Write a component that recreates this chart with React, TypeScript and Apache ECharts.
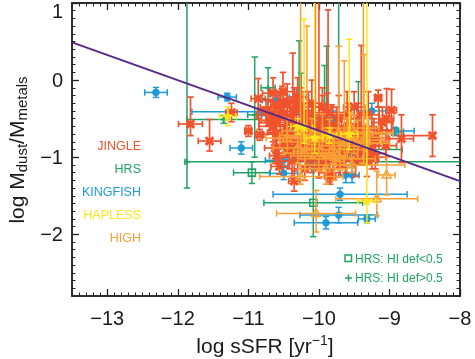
import React, { useEffect, useRef } from "react";
import * as echarts from "echarts";

const X_RANGE = [-13.5, -8];
const Y_RANGE = [-2.8, 1];
const xMajorTicks = [-13, -12, -11, -10, -9, -8];
const yMajorTicks = [-2, -1, 0, 1];

// each point: [x, y, xErrLow, xErrHigh, yErrLow, yErrHigh]
const jingle = [
  [-11.82, -0.57, 0.17, 0.17, 0.15, 0.35],
  [-11.55, -0.79, 0.16, 0.16, 0.13, 0.28],
  [-11.24, -0.42, 0.08, 0.08, 0.12, 0.12],
  [-11.0, -0.66, 0.05, 0.05, 0.07, 0.07],
  [-10.86, -0.24, 0.1, 0.1, 0.26, 0.26],
  [-10.84, -0.71, 0.06, 0.06, 0.07, 0.07],
  [-10.65, -0.17, 0.15, 0.15, 0.15, 0.2],
  [-10.51, -0.15, 0.2, 0.2, 0.2, 0.25],
  [-10.37, -0.4, 0.12, 0.12, 0.2, 0.75],
  [-10.6, -0.98, 0.1, 0.1, 0.1, 0.1],
  [-10.56, -1.12, 0.12, 0.12, 0.1, 0.1],
  [-10.35, -1.31, 0.08, 0.08, 0.13, 0.13],
  [-9.84, -1.25, 0.08, 0.08, 0.1, 0.1],
  [-9.16, -0.23, 0.05, 0.05, 0.12, 0.1],
  [-8.97, -0.39, 0.07, 0.07, 0.27, 0.27],
  [-8.83, -0.76, 0.17, 0.17, 0.31, 0.31],
  [-8.39, -0.72, 0.44, 0.03, 0.27, 0.27],
  [-10.7, -0.55, 0.15, 0.15, 0.15, 0.2],
  [-10.75, -0.4, 0.12, 0.12, 0.15, 0.15],
  [-10.6, -0.7, 0.2, 0.2, 0.2, 0.2],
  [-10.55, -0.45, 0.2, 0.2, 0.2, 0.3],
  [-10.5, -0.85, 0.15, 0.15, 0.15, 0.2],
  [-10.45, -0.55, 0.25, 0.25, 0.2, 0.25],
  [-10.4, -0.78, 0.2, 0.2, 0.2, 0.25],
  [-10.35, -0.4, 0.2, 0.2, 0.2, 0.3],
  [-10.3, -0.95, 0.15, 0.15, 0.2, 0.2],
  [-10.3, -0.22, 0.15, 0.15, 0.15, 0.25],
  [-10.25, -0.62, 0.25, 0.25, 0.2, 0.3],
  [-10.2, -0.85, 0.2, 0.2, 0.2, 0.25],
  [-10.2, -1.15, 0.15, 0.15, 0.15, 0.2],
  [-10.15, -0.5, 0.2, 0.2, 0.2, 0.35],
  [-10.1, -1.0, 0.2, 0.2, 0.2, 0.2],
  [-10.1, -0.3, 0.15, 0.15, 0.15, 0.3],
  [-10.05, -0.7, 0.25, 0.25, 0.25, 2.5],
  [-10.0, -0.9, 0.2, 0.2, 0.2, 2.5],
  [-10.0, -1.12, 0.15, 0.15, 0.15, 0.2],
  [-9.95, -0.55, 0.2, 0.2, 0.2, 0.35],
  [-9.95, -0.35, 0.15, 0.15, 0.15, 0.25],
  [-9.9, -1.05, 0.2, 0.2, 0.2, 0.2],
  [-9.87, -0.8, 0.2, 0.2, 0.2, 1.71],
  [-9.85, -1.2, 0.15, 0.15, 0.12, 0.15],
  [-9.8, -0.95, 0.2, 0.2, 0.2, 0.25],
  [-9.75, -0.65, 0.25, 0.25, 0.2, 0.3],
  [-9.7, -1.1, 0.2, 0.2, 0.15, 0.2],
  [-9.65, -0.9, 0.2, 0.2, 0.2, 0.3],
  [-9.6, -0.45, 0.2, 0.2, 0.2, 0.3],
  [-9.55, -0.75, 0.25, 0.25, 0.2, 0.3],
  [-9.5, -0.35, 0.15, 0.15, 0.15, 0.2],
  [-9.45, -0.6, 0.2, 0.2, 0.2, 0.3],
  [-9.4, -0.9, 0.15, 0.15, 0.2, 1.35],
  [-9.35, -0.85, 0.2, 0.2, 0.2, 0.2],
  [-9.3, -0.45, 0.15, 0.15, 0.2, 0.3],
  [-9.25, -0.95, 0.2, 0.2, 0.2, 0.25],
  [-9.2, -1.0, 0.15, 0.15, 0.15, 0.2],
  [-9.15, -0.65, 0.2, 0.2, 0.2, 0.3],
  [-9.1, -0.55, 0.15, 0.15, 0.15, 0.2],
  [-9.05, -0.85, 0.15, 0.15, 0.15, 0.2],
  [-9.04, -0.5, 0.1, 0.1, 0.15, 0.39],
  [-10.65, -0.6, 0.2, 0.2, 0.2, 0.25],
  [-10.58, -0.35, 0.25, 0.25, 0.2, 0.2],
  [-10.48, -0.68, 0.25, 0.25, 0.25, 0.25],
  [-10.42, -0.95, 0.2, 0.2, 0.2, 0.2],
  [-10.32, -0.58, 0.3, 0.3, 0.25, 0.3],
  [-10.28, -0.78, 0.25, 0.25, 0.25, 0.25],
  [-10.22, -0.45, 0.3, 0.3, 0.2, 0.3],
  [-10.18, -0.7, 0.25, 0.25, 0.25, 0.3],
  [-10.12, -0.88, 0.3, 0.3, 0.2, 0.25],
  [-10.08, -0.6, 0.3, 0.3, 0.25, 0.3],
  [-10.02, -0.78, 0.25, 0.25, 0.25, 0.3],
  [-9.97, -1.0, 0.25, 0.25, 0.2, 0.2],
  [-9.92, -0.68, 0.3, 0.3, 0.25, 0.3],
  [-9.88, -0.42, 0.25, 0.25, 0.2, 0.25],
  [-9.82, -0.62, 0.3, 0.3, 0.25, 0.3],
  [-9.78, -0.82, 0.25, 0.25, 0.25, 0.25],
  [-9.72, -0.5, 0.25, 0.25, 0.2, 0.3],
  [-9.68, -0.75, 0.3, 0.3, 0.25, 0.3],
  [-9.62, -1.0, 0.2, 0.2, 0.2, 0.2],
  [-9.58, -0.6, 0.25, 0.25, 0.25, 0.3],
  [-9.52, -0.88, 0.25, 0.25, 0.2, 0.25],
  [-9.48, -1.05, 0.2, 0.2, 0.2, 0.2],
  [-9.42, -0.72, 0.25, 0.25, 0.25, 0.3],
  [-10.45, -0.3, 0.2, 0.2, 0.2, 0.25],
  [-10.62, -0.88, 0.15, 0.15, 0.2, 0.2],
  [-10.38, -1.05, 0.2, 0.2, 0.2, 0.2],
  [-9.32, -1.05, 0.15, 0.15, 0.2, 0.2],
  [-9.22, -0.75, 0.2, 0.2, 0.2, 0.25],
  [-10.68, -0.45, 0.2, 0.2, 0.2, 0.2],
  [-10.52, -0.28, 0.2, 0.2, 0.15, 0.2],
  [-10.4, -0.5, 0.25, 0.25, 0.2, 0.25],
  [-10.25, -0.35, 0.25, 0.25, 0.2, 0.25],
  [-10.62, -0.52, 0.2, 0.2, 0.2, 0.2],
];

const hrsLowDef = [
  [-10.95, -1.2, 0.26, 0.26, 0.14, 0.14],
  [-10.08, -1.59, 0.7, 0.7, 0.44, 0.8],
  [-8.92, -0.67, 0.12, 0.12, 0.05, 0.05],
  [-10.2, -0.65, 0.2, 0.2, 0.15, 0.15],
  [-9.5, -0.95, 0.25, 0.25, 0.15, 0.15],
];

const hrsHighDef = [
  [-11.87, -1.06, 0.03, 4.5, 0.34, 2.6],
  [-11.35, -0.51, 0.52, 0.5, 0.05, 0.05],
  [-10.91, -0.45, 0.1, 0.1, 0.55, 0.75],
  [-10.72, -0.1, 0.1, 0.1, 0.25, 0.26],
  [-10.28, -0.3, 0.15, 0.15, 0.3, 0.81],
  [-10.25, -0.4, 0.15, 0.15, 0.3, 0.49],
  [-9.89, -0.5, 0.2, 0.2, 0.3, 0.94],
  [-9.92, -0.55, 0.15, 0.15, 0.3, 0.74],
  [-9.72, -0.6, 0.2, 0.2, 0.3, 2.5],
  [-9.44, -0.45, 0.15, 0.15, 0.25, 0.43],
  [-9.6, -0.9, 0.78, 0.78, 0.1, 0.1],
  [-10.0, -0.88, 0.5, 0.5, 0.1, 0.1],
];

const kingfish = [
  [-12.31, -0.16, 0.16, 0.16, 0.065, 0.065],
  [-11.3, -0.22, 0.13, 0.13, 0.05, 0.05],
  [-11.1, -0.88, 0.16, 0.16, 0.08, 0.08],
  [-10.8, -0.41, 1.0, 0.5, 0.05, 0.05],
  [-10.51, -1.04, 0.25, 0.25, 0.06, 0.06],
  [-10.5, -1.21, 0.2, 0.2, 0.08, 0.08],
  [-9.7, -1.48, 0.95, 0.95, 0.08, 0.08],
  [-9.72, -1.75, 0.55, 0.55, 0.1, 0.1],
  [-9.9, -1.85, 0.45, 0.45, 0.08, 0.08],
  [-9.32, -1.8, 0.12, 0.12, 0.05, 0.05],
  [-9.62, -1.23, 0.1, 0.1, 0.1, 0.1],
  [-9.53, -1.23, 0.1, 0.1, 0.1, 0.1],
  [-8.93, -0.66, 0.1, 0.28, 0.05, 0.05],
  [-10.6, -0.26, 0.2, 0.2, 0.06, 0.06],
  [-10.3, -0.22, 0.12, 0.12, 0.1, 0.1],
  [-10.25, -0.55, 0.15, 0.15, 0.1, 0.1],
  [-9.8, -0.5, 0.2, 0.2, 0.1, 0.1],
  [-9.25, -0.4, 0.2, 0.2, 0.1, 0.1],
  [-9.7, -1.05, 0.3, 0.3, 0.08, 0.08],
  [-10.15, -1.0, 0.3, 0.3, 0.1, 0.1],
];

const high = [
  [-9.04, -1.23, 0.12, 0.12, 0.26, 0.23],
  [-9.18, -1.54, 0.58, 0.58, 0.22, 0.36],
  [-10.04, -1.73, 0.56, 0.56, 0.24, 0.3],
  [-10.26, -1.25, 0.58, 0.6, 0.1, 0.1],
  [-9.53, -1.1, 0.75, 0.75, 0.1, 0.1],
  [-10.26, -0.72, 0.3, 0.3, 0.3, 2.5],
  [-10.17, -0.66, 0.35, 0.35, 0.25, 1.36],
  [-9.72, -0.68, 0.4, 0.4, 0.3, 1.12],
  [-9.64, -0.85, 0.35, 0.35, 0.25, 1.1],
  [-9.37, -0.78, 0.3, 0.3, 0.3, 2.5],
  [-9.36, -0.82, 0.25, 0.25, 0.25, 1.15],
  [-10.45, -0.75, 0.3, 0.3, 0.2, 0.25],
  [-10.3, -0.88, 0.35, 0.35, 0.2, 0.2],
  [-10.1, -0.8, 0.45, 0.45, 0.2, 0.3],
  [-9.95, -0.74, 0.5, 0.5, 0.25, 0.3],
  [-9.85, -0.76, 0.4, 0.4, 0.2, 0.25],
  [-9.6, -0.74, 0.5, 0.5, 0.2, 0.25],
  [-9.45, -0.82, 0.45, 0.45, 0.2, 0.3],
  [-9.5, -0.7, 0.55, 0.55, 0.25, 0.25],
  [-9.8, -0.9, 0.45, 0.45, 0.2, 0.2],
  [-10.0, -0.98, 0.4, 0.4, 0.2, 0.25],
  [-9.7, -1.02, 0.5, 0.5, 0.15, 0.2],
  [-9.3, -0.68, 0.35, 0.35, 0.15, 0.2],
  [-9.55, -0.62, 0.4, 0.4, 0.2, 0.2],
  [-10.2, -0.95, 0.3, 0.3, 0.2, 0.2],
  [-9.9, -1.15, 0.3, 0.3, 0.2, 0.2],
  [-9.78, -1.0, 0.15, 0.15, 0.3, 0.3],
];

const hapless = [
  [-11.29, -0.47, 0.12, 0.12, 0.12, 0.12],
  [-9.32, -1.57, 0.13, 0.13, 0.28, 3.0],
  [-10.21, -0.62, 0.12, 0.12, 0.2, 1.41],
  [-10.06, -0.75, 0.12, 0.12, 0.2, 3.0],
  [-9.57, -0.7, 0.12, 0.12, 0.2, 1.23],
  [-10.3, -0.6, 0.1, 0.1, 0.1, 0.1],
  [-9.85, -0.72, 0.1, 0.1, 0.1, 0.1],
];

const fitLine = [
  [-13.5, 0.49],
  [-8, -1.31],
];

const legendNames = ["JINGLE", "HRS", "KINGFISH", "HAPLESS", "HIGH"];
const C_JINGLE = "#f0532c";
const C_HRS = "#1fa463";
const C_KING = "#1d9ad8";
const C_HAP = "#ffe41a";
const C_HIGH = "#f9a034";
const legendColors = [C_JINGLE, C_HRS, C_KING, C_HAP, C_HIGH];
const hrsLegend = ["HRS: HI def<0.5", "HRS: HI def>0.5"];

const FONT = "'Liberation Sans', Arial, sans-serif";
const TXT = "#1a1a1a";
const CAP = 3.2;

function minorTicks(lo: number, hi: number) {
  const out: number[] = [];
  for (let i = Math.round(lo * 10); i <= Math.round(hi * 10); i++) {
    if (i % 10 !== 0) out.push(i / 10);
  }
  return out;
}

function markerShape(kind: string, x: number, y: number, color: string): any {
  if (kind === "x") {
    const s = 3.8;
    return {
      type: "group",
      children: [
        { type: "line", shape: { x1: x - s, y1: y - s, x2: x + s, y2: y + s }, style: { stroke: color, lineWidth: 3 } },
        { type: "line", shape: { x1: x - s, y1: y + s, x2: x + s, y2: y - s }, style: { stroke: color, lineWidth: 3 } },
      ],
    };
  }
  if (kind === "circle") {
    return { type: "circle", shape: { cx: x, cy: y, r: 3.8 }, style: { fill: color } };
  }
  if (kind === "square") {
    return { type: "rect", shape: { x: x - 3.5, y: y - 3.5, width: 7, height: 7 }, style: { fill: "none", stroke: color, lineWidth: 1.6 } };
  }
  if (kind === "plus") {
    return {
      type: "group",
      children: [
        { type: "line", shape: { x1: x - 3, y1: y, x2: x + 3, y2: y }, style: { stroke: color, lineWidth: 1.8 } },
        { type: "line", shape: { x1: x, y1: y - 3, x2: x, y2: y + 3 }, style: { stroke: color, lineWidth: 1.8 } },
      ],
    };
  }
  if (kind === "star") {
    const pts: number[][] = [];
    for (let i = 0; i < 10; i++) {
      const r = i % 2 === 0 ? 5.8 : 2.6;
      const a = -Math.PI / 2 + (i * Math.PI) / 5;
      pts.push([x + r * Math.cos(a), y + r * Math.sin(a)]);
    }
    return { type: "polygon", shape: { points: pts }, style: { fill: color } };
  }
  return {
    type: "polygon",
    shape: { points: [[x, y - 5], [x - 4.5, y + 3], [x + 4.5, y + 3]] },
    style: { fill: "none", stroke: color, lineWidth: 1.5 },
  };
}

function errRenderer(color: string, kind: string, width: number) {
  return (params: any, api: any) => {
    const x = api.value(0), y = api.value(1);
    const xl = api.value(2), xh = api.value(3), yl = api.value(4), yh = api.value(5);
    const cx = (v: number) => Math.min(X_RANGE[1], Math.max(X_RANGE[0], v));
    const cy = (v: number) => Math.min(Y_RANGE[1], Math.max(Y_RANGE[0], v));
    const ls = { stroke: color, lineWidth: width };
    const line = (x1: number, y1: number, x2: number, y2: number) => ({ type: "line", shape: { x1, y1, x2, y2 }, style: ls });
    const pL = api.coord([cx(x - xl), y]);
    const pR = api.coord([cx(x + xh), y]);
    const pB = api.coord([x, cy(y - yl)]);
    const pT = api.coord([x, cy(y + yh)]);
    const children: any[] = [line(pL[0], pL[1], pR[0], pR[1]), line(pB[0], pB[1], pT[0], pT[1])];
    if (x - xl >= X_RANGE[0]) children.push(line(pL[0], pL[1] - CAP, pL[0], pL[1] + CAP));
    if (x + xh <= X_RANGE[1]) children.push(line(pR[0], pR[1] - CAP, pR[0], pR[1] + CAP));
    if (y - yl >= Y_RANGE[0]) children.push(line(pB[0] - CAP, pB[1], pB[0] + CAP, pB[1]));
    if (y + yh <= Y_RANGE[1]) children.push(line(pT[0] - CAP, pT[1], pT[0] + CAP, pT[1]));
    const p = api.coord([x, y]);
    children.push(markerShape(kind, p[0], p[1], color));
    return { type: "group", children };
  };
}

function errSeries(name: string, data: number[][], color: string, kind: string, width = 1.5) {
  return {
    type: "custom",
    name,
    xAxisIndex: 0,
    yAxisIndex: 0,
    clip: true,
    encode: { x: 0, y: 1 },
    data,
    renderItem: errRenderer(color, kind, width),
  };
}

const fmt = (v: number) => String(v).replace("-", "\u2212");

export default function App() {
  const ref = useRef<HTMLDivElement>(null);
  useEffect(() => {
    if (!ref.current) return;
    const chart = echarts.init(ref.current, undefined, { renderer: "svg" });
    const axisLine = { show: true, onZero: false, lineStyle: { color: "#222", width: 1.5 } };
    const xMinor = minorTicks(X_RANGE[0], X_RANGE[1]);
    const yMinor = minorTicks(Y_RANGE[0], Y_RANGE[1]);
    const baseX = { type: "value", min: X_RANGE[0], max: X_RANGE[1], splitLine: { show: false }, axisLine };
    const baseY = { type: "value", min: Y_RANGE[0], max: Y_RANGE[1], splitLine: { show: false }, axisLine };
    const major = (vals: number[]) => ({ show: true, inside: true, length: 7, customValues: vals, lineStyle: { color: "#222", width: 1.3 } });
    const minor = (vals: number[]) => ({ show: true, inside: true, length: 3.5, customValues: vals, lineStyle: { color: "#222", width: 1 } });
    const option: any = {
      animation: false,
      grid: { left: 72, top: 3, width: 388, height: 293 },
      xAxis: [
        {
          ...baseX,
          position: "bottom",
          axisTick: major(xMajorTicks),
          axisLabel: { customValues: xMajorTicks, formatter: fmt, fontSize: 20, fontFamily: FONT, color: TXT, margin: 12 },
        },
        { ...baseX, position: "bottom", axisTick: minor(xMinor), axisLabel: { show: false } },
        { ...baseX, position: "top", axisTick: major(xMajorTicks), axisLabel: { show: false } },
        { ...baseX, position: "top", axisTick: minor(xMinor), axisLabel: { show: false } },
      ],
      yAxis: [
        {
          ...baseY,
          position: "left",
          axisTick: major(yMajorTicks),
          axisLabel: {
            customValues: yMajorTicks,
            formatter: (v: number) => (v === 1 ? "{top|1}" : fmt(v)),
            fontSize: 20,
            fontFamily: FONT,
            color: TXT,
            margin: 9,
            rich: { top: { fontSize: 20, fontFamily: FONT, color: TXT, padding: [15, 0, 0, 0] } },
          },
        },
        { ...baseY, position: "left", axisTick: minor(yMinor), axisLabel: { show: false } },
        { ...baseY, position: "right", axisTick: major(yMajorTicks), axisLabel: { show: false } },
        { ...baseY, position: "right", axisTick: minor(yMinor), axisLabel: { show: false } },
      ],
      series: [
        errSeries("HRS def<0.5", hrsLowDef, C_HRS, "square"),
        errSeries("HRS def>0.5", hrsHighDef, C_HRS, "plus"),
        errSeries("KINGFISH", kingfish, C_KING, "circle"),
        errSeries("JINGLE", jingle, C_JINGLE, "x", 1.7),
        errSeries("HIGH", high, C_HIGH, "triangle"),
        errSeries("HAPLESS", hapless, C_HAP, "star"),
        {
          type: "line",
          name: "fit",
          data: fitLine,
          symbol: "none",
          z: 10,
          lineStyle: { color: "#56288a", width: 2 },
        },
      ],
      graphic: [
        {
          type: "text",
          x: 16,
          y: 150,
          rotation: Math.PI / 2,
          style: {
            text: "log M{sub|dust}/M{sub|metals}",
            fontSize: 21,
            fontFamily: FONT,
            fill: TXT,
            align: "center",
            verticalAlign: "middle",
            rich: { sub: { fontSize: 15, fontFamily: FONT, fill: TXT, padding: [11, 0, 0, 0] } },
          },
        },
        {
          type: "text",
          x: 265,
          y: 345,
          style: {
            text: "log sSFR [yr{sup|\u22121}]",
            fontSize: 21,
            fontFamily: FONT,
            fill: TXT,
            align: "center",
            verticalAlign: "middle",
            rich: { sup: { fontSize: 14, fontFamily: FONT, fill: TXT, padding: [0, 0, 11, 0] } },
          },
        },
        ...legendNames.map((n, i) => ({
          type: "text",
          x: 141,
          y: 146 + i * 23,
          style: { text: n, fontSize: 12.5, fontFamily: FONT, fill: legendColors[i], align: "right", verticalAlign: "middle" },
        })),
        { type: "rect", shape: { x: 345, y: 255, width: 6.5, height: 6.5 }, style: { fill: "none", stroke: C_HRS, lineWidth: 1.5 } },
        { type: "line", shape: { x1: 345, y1: 278, x2: 352, y2: 278 }, style: { stroke: C_HRS, lineWidth: 1.5 } },
        { type: "line", shape: { x1: 348.5, y1: 274.5, x2: 348.5, y2: 281.5 }, style: { stroke: C_HRS, lineWidth: 1.5 } },
        ...hrsLegend.map((t, i) => ({
          type: "text",
          x: 355,
          y: 258.5 + i * 19.5,
          style: { text: t, fontSize: 12, fontFamily: FONT, fill: C_HRS, align: "left", verticalAlign: "middle" },
        })),
      ],
    };
    chart.setOption(option);
    return () => chart.dispose();
  }, []);
  return <div ref={ref} style={{ position: "fixed", left: 0, top: 0, width: 475, height: 359 }} />;
}
